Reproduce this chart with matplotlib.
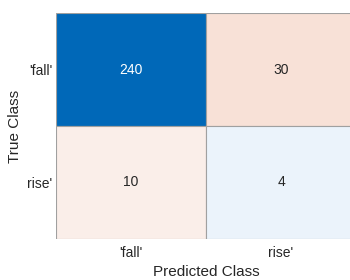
import numpy as np
import matplotlib
matplotlib.use("Agg")
import matplotlib.pyplot as plt

# data
class_names = ["'fall'", "rise'"]
counts = np.array([[240, 30],
                   [10, 4]])

# cell colours (diagonal blue, off-diagonal red tints)
cell_colors = [["#0068B8", "#F8E1D7"],
               ["#FAEEE9", "#EBF3FB"]]

plt.rcParams['font.family'] = ['Liberation Sans', 'DejaVu Sans']

fig = plt.figure(figsize=(3.5, 2.8), dpi=100)
ax = fig.add_axes([56 / 350, 1 - 239 / 280, 300 / 350, 226 / 280])

n = len(class_names)
for i in range(n):
    for j in range(n):
        ax.add_patch(plt.Rectangle((j, i), 1, 1, facecolor=cell_colors[i][j],
                                   edgecolor="#A0A0A0", linewidth=0.8))
        txt_color = "white" if i == j and counts[i, j] > counts.max() / 2 else "#262626"
        ax.text(j + 0.5, i + 0.5, str(counts[i, j]), ha="center", va="center",
                fontsize=10, color=txt_color)

ax.set_xlim(0, n)
ax.set_ylim(n, 0)
ax.set_xticks(np.arange(n) + 0.5)
ax.set_yticks(np.arange(n) + 0.5)
ax.set_xticklabels(class_names, fontsize=10, color="#262626")
ax.set_yticklabels(class_names, fontsize=10, color="#262626")
ax.tick_params(axis="x", length=0, pad=5)
ax.tick_params(axis="y", length=0, pad=2.5)
for s in ax.spines.values():
    s.set_visible(False)

ax.set_xlabel("Predicted Class", fontsize=11, color="#262626", labelpad=4)
ax.set_ylabel("True Class", fontsize=11, color="#262626", labelpad=4)

fig.savefig("out.png", dpi=100)
